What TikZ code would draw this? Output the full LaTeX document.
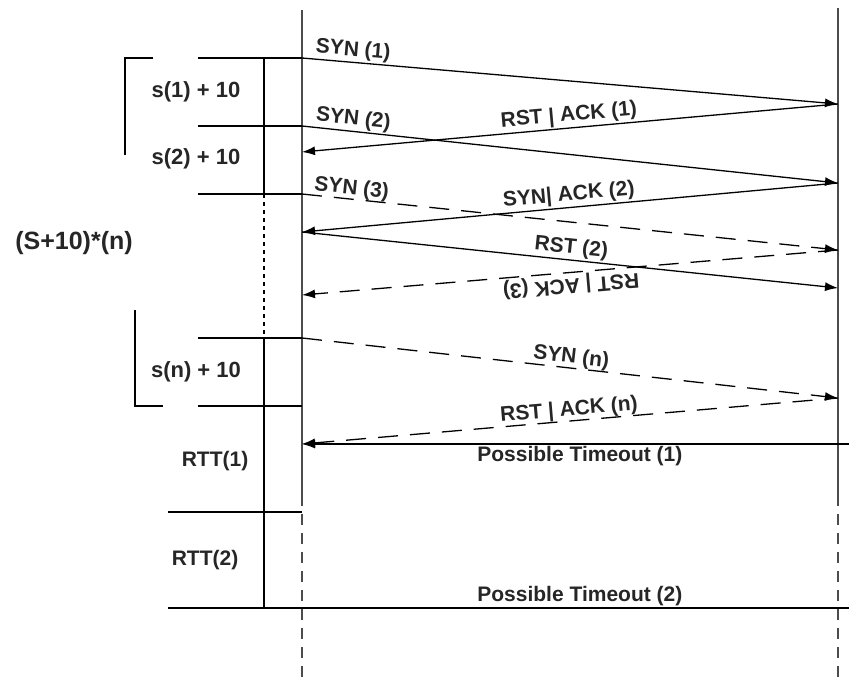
\documentclass[tikz,border=0pt]{standalone}
\usepackage{fontspec}
\setmainfont{Liberation Sans}
\usetikzlibrary{arrows.meta}
\begin{document}
\begin{tikzpicture}[x=1pt,y=-1pt,
  lbl/.style={font=\fontsize{21}{24}\selectfont\bfseries, inner sep=1.5pt, text=black!85},
  slbl/.style={font=\fontsize{22}{25}\selectfont\bfseries, inner sep=0pt, text=black!85},
  life/.style={line width=1.5pt, draw=black!70},
  lifedash/.style={line width=1.5pt, draw=black!70, dash pattern=on 11pt off 8pt},
  bar/.style={line width=2.2pt, draw=black},
  dotbar/.style={line width=2pt, draw=black, dash pattern=on 4pt off 4pt},
  msg/.style={line width=1.3pt, -{Latex[length=13pt,width=9pt]}},
  msgl/.style={line width=1.3pt, {Latex[length=13pt,width=9pt]}-},
  dsh/.style={dash pattern=on 20pt off 12pt},
]
\useasboundingbox (0,0) rectangle (849,677);

% lifelines
\coordinate (Ltop) at (302,10);
\coordinate (Lmid) at (302,495);
\coordinate (Lbot) at (302,677);
\coordinate (Rtop) at (838,8);
\coordinate (Rmid) at (838,495);
\coordinate (Rbot) at (838,677);
\draw[life] (Ltop) -- (Lmid);
\draw[lifedash] (Lmid) -- (Lbot);
\draw[life] (Rtop) -- (Rmid);
\draw[lifedash] (Rmid) -- (Rbot);

% event points
\coordinate (L1) at (302,58);
\coordinate (R1) at (838,104);
\coordinate (L2) at (302,126);
\coordinate (Lr1) at (302,152);
\coordinate (R2) at (838,183);
\coordinate (L3) at (302,194);
\coordinate (Lr2) at (302,232);
\coordinate (R3) at (838,250);
\coordinate (R4) at (838,288);
\coordinate (Lr3) at (302,295);
\coordinate (Ln) at (302,338);
\coordinate (Rn) at (838,398);
\coordinate (Lrn) at (302,444);
\coordinate (Rt1) at (849,444);
\coordinate (L6) at (302,406);
\coordinate (L7) at (302,512);
\coordinate (L8) at (302,608);
\coordinate (Rt2) at (849,608);

% timeline bars
\coordinate (B1) at (198,58);
\coordinate (B2) at (198,126);
\coordinate (B3) at (198,194);
\coordinate (B4) at (198,338);
\coordinate (B5) at (198,406);
\coordinate (B6) at (168,512);
\coordinate (B7) at (168,608);
\coordinate (T0) at (264,58);
\coordinate (T1) at (264,194);
\coordinate (T2) at (264,338);
\coordinate (T3) at (264,608);
\draw[bar] (T0) -- (T1);
\draw[dotbar] (T1) -- (T2);
\draw[bar] (T2) -- (T3);
\foreach \b/\l in {B1/L1,B2/L2,B3/L3,B4/Ln,B5/L6,B6/L7,B7/L8} \draw[bar] (\b) -- (\l);

% brackets
\coordinate (K1) at (153,58);
\coordinate (K2) at (125,58);
\coordinate (K3) at (125,155);
\coordinate (K4) at (135,310);
\coordinate (K5) at (135,406);
\coordinate (K6) at (163,406);
\draw[line width=2pt] (K1) -- (K2) -- (K3);
\draw[line width=2pt] (K4) -- (K5) -- (K6);

% left labels
\node[slbl] (s1) at (196,92) {s(1) + 10};
\node[slbl] (s2) at (196,159) {s(2) + 10};
\node[slbl] (sn) at (196,372) {s(n) + 10};
\node[font=\fontsize{25}{28}\selectfont\bfseries, inner sep=0pt, text=black!85] (sum) at (74,243) {(S+10)*(n)};
\node[slbl, font=\fontsize{21}{24}\selectfont\bfseries] (rtt1) at (215,461) {RTT(1)};
\node[slbl, font=\fontsize{21}{24}\selectfont\bfseries] (rtt2) at (205,560) {RTT(2)};

% messages
\draw[msg] (L1) -- node[lbl, sloped, anchor=south west, pos=0.02] {SYN (1)} (R1);
\draw[msgl] (Lr1) -- node[lbl, sloped, above, pos=0.5] {RST | ACK (1)} (R1);
\draw[msg] (L2) -- node[lbl, sloped, anchor=south west, pos=0.02] {SYN (2)} (R2);
\draw[msgl] (Lr2) -- node[lbl, sloped, above, pos=0.5] {SYN| ACK (2)} (R2);
\draw[msg, dsh] (L3) -- node[lbl, sloped, anchor=south west, pos=0.02, inner sep=0pt] {SYN (3)} (R3);
\draw[msg] (Lr2) -- node[lbl, sloped, above, pos=0.5] {RST (2)} (R4);
\draw[msg, dsh] (R3) -- node[lbl, sloped, allow upside down, anchor=south, pos=0.5] {RST | ACK (3)} (Lr3);
\draw[msg, dsh] (Ln) -- node[lbl, sloped, above, pos=0.5, inner sep=0pt] {SYN (n)} (Rn);
\draw[msgl, dsh] (Lrn) -- node[lbl, sloped, above, pos=0.5, inner sep=0pt] {RST | ACK (n)} (Rn);
\draw[msgl] (Lrn) -- node[lbl, below, pos=0.508] {Possible Timeout (1)} (Rt1);
\draw[line width=1.3pt] (L8) -- node[lbl, above, pos=0.508] {Possible Timeout (2)} (Rt2);
\end{tikzpicture}
\end{document}
